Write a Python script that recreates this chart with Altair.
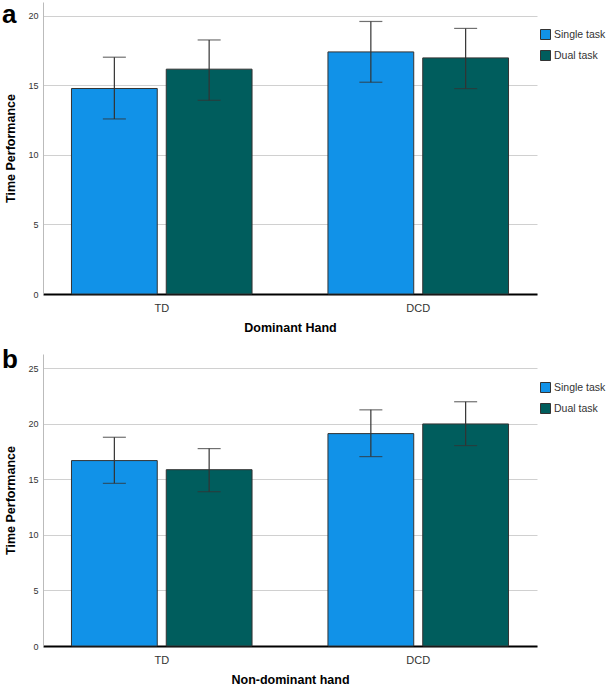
import altair as alt
import pandas as pd

groups = ["TD", "TD", "DCD", "DCD"]
tasks = ["Single task", "Dual task", "Single task", "Dual task"]

a_mean = [14.78, 16.17, 17.41, 16.98]
a_low = [12.59, 13.93, 15.23, 14.77]
a_high = [17.03, 18.27, 19.60, 19.10]

b_mean = [16.70, 15.88, 19.13, 20.00]
b_low = [14.65, 13.90, 17.06, 18.05]
b_high = [18.80, 17.78, 21.27, 22.00]

task_order = ["Single task", "Dual task"]
group_order = ["TD", "DCD"]
colors = ["#1192e8", "#005d5d"]

FONT = "Liberation Sans"


def panel(mean, low, high, xtitle, ymax, letter, ly, letter_y):
    df = pd.DataFrame({"group": groups, "task": tasks, "mean": mean,
                       "low": low, "high": high})
    x = alt.X("group:N", sort=group_order, title=xtitle,
              scale=alt.Scale(paddingInner=0.296, paddingOuter=0.111),
              axis=alt.Axis(labelAngle=0, ticks=False, domainColor="#000000",
                            domainWidth=2, labelFontSize=11, labelColor="#333333",
                            labelPadding=8, titleFontSize=12.5, titleFontWeight="bold",
                            titleColor="#000000", titlePadding=8, grid=False))
    xo = alt.XOffset("task:N", sort=task_order,
                     scale=alt.Scale(paddingInner=0.095, paddingOuter=0))
    y = alt.Y("mean:Q", title="Time Performance",
              scale=alt.Scale(domain=[0, ymax], nice=False, zero=True),
              axis=alt.Axis(values=[0, 5, 10, 15, 20, 25], ticks=False,
                            domainColor="#bbbbbb", gridColor="#d0d0d0",
                            labelFontSize=9, labelColor="#333333", labelPadding=5,
                            titleFontSize=12.5, titleFontWeight="bold",
                            titleColor="#000000", titlePadding=10))
    color = alt.Color("task:N", sort=task_order,
                      scale=alt.Scale(domain=task_order, range=colors),
                      legend=alt.Legend(title=None, orient="none", legendX=497,
                                        legendY=ly, symbolType="square",
                                        symbolSize=100, symbolStrokeColor="#333333",
                                        symbolStrokeWidth=1, labelFontSize=10.5,
                                        labelColor="#333333", rowPadding=6,
                                        labelOffset=3))
    base = alt.Chart(df)
    bars = base.mark_bar(stroke="#333333", strokeWidth=1).encode(
        x=x, xOffset=xo, y=y, color=color)
    rule = base.mark_rule(color="#333333", strokeWidth=1.2).encode(
        x=alt.X("group:N", sort=group_order), xOffset=xo,
        y=alt.Y("low:Q"), y2="high:Q")
    caps_hi = base.mark_tick(color="#333333", thickness=1.2, size=23,
                             orient="horizontal").encode(
        x=alt.X("group:N", sort=group_order), xOffset=xo, y=alt.Y("high:Q"))
    caps_lo = base.mark_tick(color="#333333", thickness=1.2, size=23,
                             orient="horizontal").encode(
        x=alt.X("group:N", sort=group_order), xOffset=xo, y=alt.Y("low:Q"))
    lab = alt.Chart(pd.DataFrame({"t": [letter]})).mark_text(
        font=FONT, fontSize=26, fontWeight="bold", align="left", baseline="middle",
        color="#000000").encode(text="t:N", x=alt.value(-41), y=alt.value(letter_y))
    return alt.layer(bars, rule, caps_hi, caps_lo, lab).properties(
        width=494, height=292)


pa = panel(a_mean, a_low, a_high, "Dominant Hand", 21.0, "a", 27, 13)
pb = panel(b_mean, b_low, b_high, "Non-dominant hand", 26.3, "b", 28, 6)

chart = alt.vconcat(pa, pb, spacing=13).resolve_scale(
    color="independent").resolve_legend(color="independent").properties(
    padding={"left": 2, "top": 2, "right": 0, "bottom": 0}
).configure(font=FONT).configure_view(strokeWidth=0)

chart.save("out.html", embed_options={"renderer": "svg", "actions": False})
